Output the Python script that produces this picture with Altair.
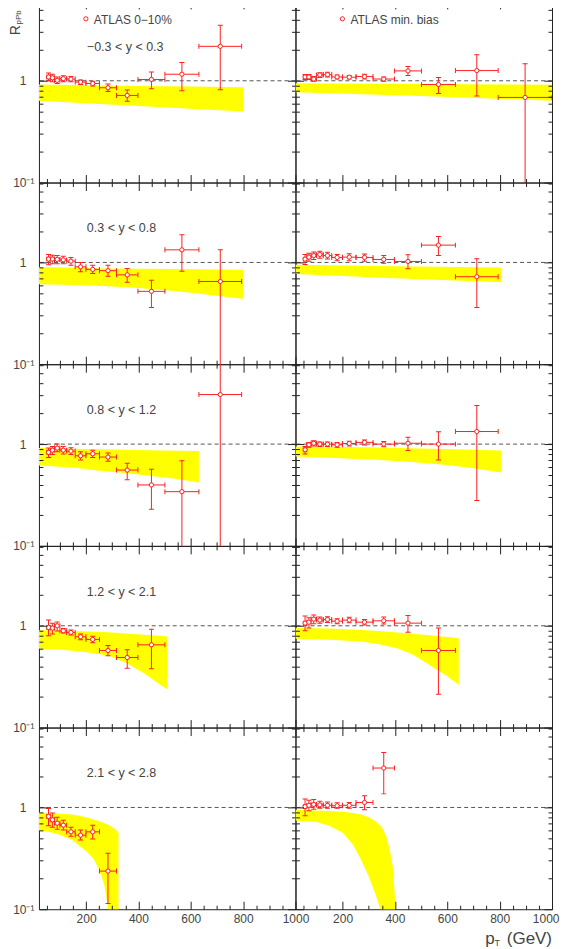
import altair as alt
import pandas as pd

FONT = "Liberation Sans"
RED = "#ff2020"
TXT = "#444444"
W, H = 257, 182

# ---------------- data ----------------
pt_center = [56.6, 71.3, 89.7, 113.0, 142.2, 179.0, 225.4, 283.7, 357.2, 449.7, 566.1, 712.7, 897.2]
pt_low = [50.1, 63.1, 79.4, 100.0, 125.9, 158.5, 199.5, 251.2, 316.2, 398.1, 501.2, 631.0, 794.3]
pt_high = [63.1, 79.4, 100.0, 125.9, 158.5, 199.5, 251.2, 316.2, 398.1, 501.2, 631.0, 794.3, 1000.0]

x_ticks = [50, 100, 150, 200, 250, 300, 350, 400, 450, 500, 550, 600, 650, 700, 750, 800, 850, 900, 950, 1000]
y_ticks = [0.1, 0.2, 0.3, 0.4, 0.5, 0.6, 0.7, 0.8, 0.9, 1, 2, 3, 4, 5, 6]
unity = [1.0]

rapidity_labels = ["\u22120.3  <  y  <  0.3", "0.3  <  y  <  0.8", "0.8  <  y  <  1.2",
                   "1.2  <  y  <  2.1", "2.1  <  y  <  2.8"]
legend_labels = ["ATLAS  0\u221210%", "ATLAS  min. bias"]

# ATLAS 0-10% (left column)
c1_R = [1.09, 1.07, 1.01, 1.05, 1.04, 0.97, 0.94, 0.854, 0.718, 1.03, 1.16, 2.18]
c1_lo = [1.0, 0.98, 0.94, 0.98, 0.98, 0.92, 0.89, 0.785, 0.63, 0.835, 0.80, 0.815]
c1_hi = [1.19, 1.16, 1.09, 1.12, 1.10, 1.02, 0.99, 0.93, 0.81, 1.22, 1.51, 3.51]

c2_R = [1.08, 1.08, 1.07, 1.06, 1.03, 0.905, 0.855, 0.83, 0.755, 0.52, 1.33, 0.65]
c2_lo = [0.95, 0.97, 0.97, 0.97, 0.94, 0.81, 0.78, 0.73, 0.64, 0.36, 0.82, 0.03]
c2_hi = [1.2, 1.18, 1.17, 1.15, 1.12, 1.0, 0.94, 0.94, 0.87, 0.67, 1.87, 1.33]

c3_R = [0.83, 0.873, 0.914, 0.873, 0.854, 0.768, 0.804, 0.746, 0.556, 0.397, 0.341, 3.07]
c3_lo = [0.74, 0.79, 0.84, 0.80, 0.79, 0.70, 0.74, 0.68, 0.447, 0.229, 0.03, 0.03]
c3_hi = [0.914, 0.95, 1.0, 0.95, 0.92, 0.84, 0.87, 0.82, 0.65, 0.565, 0.686, 20.0]

c4_R = [0.963, 0.95, 1.0, 0.893, 0.86, 0.78, 0.734, 0.572, 0.488, 0.65]
c4_lo = [0.80, 0.83, 0.89, 0.85, 0.81, 0.73, 0.68, 0.507, 0.383, 0.378]
c4_hi = [1.14, 1.06, 1.09, 0.94, 0.91, 0.83, 0.79, 0.64, 0.58, 0.927]

c5_R = [0.816, 0.756, 0.701, 0.67, 0.576, 0.534, 0.576, 0.237]
c5_lo = [0.66, 0.64, 0.61, 0.60, 0.52, 0.48, 0.49, 0.114]
c5_hi = [0.977, 0.88, 0.80, 0.75, 0.64, 0.60, 0.67, 0.355]

# ATLAS min. bias (right column)
m1_R = [1.09, 1.09, 1.04, 1.14, 1.15, 1.09, 1.085, 1.10, 1.04, 1.25, 0.92, 1.26, 0.686]
m1_lo = [1.03, 1.03, 0.99, 1.08, 1.09, 1.04, 1.04, 1.04, 0.99, 1.127, 0.75, 0.71, 0.03]
m1_hi = [1.15, 1.15, 1.10, 1.20, 1.21, 1.14, 1.13, 1.16, 1.09, 1.38, 1.077, 1.80, 1.47]

m2_R = [1.078, 1.128, 1.17, 1.198, 1.17, 1.12, 1.128, 1.12, 1.07, 1.023, 1.48, 0.724]
m2_lo = [0.955, 1.03, 1.07, 1.10, 1.08, 1.04, 1.04, 1.03, 0.98, 0.867, 1.17, 0.36]
m2_hi = [1.2, 1.23, 1.27, 1.29, 1.26, 1.20, 1.22, 1.21, 1.17, 1.19, 1.8, 1.09]

m3_R = [0.88, 0.985, 1.02, 1.0, 1.0, 0.985, 1.015, 1.04, 1.0, 1.02, 1.0, 1.33]
m3_lo = [0.80, 0.93, 0.96, 0.95, 0.95, 0.93, 0.96, 0.98, 0.94, 0.866, 0.70, 0.28]
m3_hi = [0.95, 1.04, 1.08, 1.05, 1.05, 1.04, 1.07, 1.10, 1.06, 1.17, 1.32, 2.39]

m4_R = [1.062, 1.086, 1.163, 1.137, 1.154, 1.11, 1.137, 1.086, 1.12, 1.062, 0.572]
m4_lo = [0.893, 0.95, 1.05, 1.06, 1.08, 1.05, 1.07, 1.02, 1.04, 0.866, 0.213]
m4_hi = [1.245, 1.2, 1.28, 1.22, 1.23, 1.17, 1.21, 1.15, 1.22, 1.26, 0.95]

m5_R = [1.02, 1.05, 1.07, 1.06, 1.05, 1.04, 1.05, 1.12, 2.44]
m5_lo = [0.83, 0.93, 0.96, 0.98, 0.98, 0.98, 0.98, 0.95, 1.36]
m5_hi = [1.21, 1.18, 1.20, 1.15, 1.13, 1.11, 1.12, 1.30, 3.47]

# theory bands
c1_band_pt = [20, 200, 400, 600, 800]
c1_band_hi = [0.92, 0.905, 0.89, 0.878, 0.866]
c1_band_lo = [0.637, 0.60, 0.565, 0.53, 0.50]

c2_band_pt = [20, 150, 251, 400, 550, 700, 800]
c2_band_hi = [0.90, 0.885, 0.873, 0.866, 0.86, 0.852, 0.847]
c2_band_lo = [0.61, 0.60, 0.59, 0.56, 0.52, 0.47, 0.44]

c3_band_pt = [20, 150, 251, 350, 442, 550, 631]
c3_band_hi = [0.914, 0.90, 0.89, 0.88, 0.87, 0.86, 0.854]
c3_band_lo = [0.618, 0.59, 0.548, 0.52, 0.49, 0.455, 0.42]

c4_band_pt = [20, 100, 202, 285, 354, 423, 478, 510]
c4_band_hi = [0.906, 0.90, 0.88, 0.866, 0.84, 0.815, 0.80, 0.786]
c4_band_lo = [0.594, 0.585, 0.55, 0.51, 0.43, 0.34, 0.27, 0.238]

c5_band_pt = [20, 60, 92, 147, 202, 230, 244, 260, 271, 285, 300, 315, 324]
c5_band_hi = [0.893, 0.88, 0.87, 0.853, 0.80, 0.756, 0.74, 0.72, 0.70, 0.675, 0.64, 0.60, 0.56]
c5_band_lo = [0.594, 0.575, 0.55, 0.48, 0.37, 0.31, 0.263, 0.21, 0.167, 0.10, 0.06, 0.04, 0.03]

m1_band_pt = [20, 500, 1000]
m1_band_hi = [0.947, 0.93, 0.914]
m1_band_lo = [0.773, 0.71, 0.637]

m2_band_pt = [20, 400, 807]
m2_band_hi = [0.949, 0.92, 0.893]
m2_band_lo = [0.77, 0.70, 0.64]

m3_band_pt = [20, 150, 337, 450, 591, 700, 807]
m3_band_hi = [0.949, 0.94, 0.925, 0.91, 0.895, 0.88, 0.867]
m3_band_lo = [0.757, 0.735, 0.70, 0.67, 0.627, 0.58, 0.527]

m4_band_pt = [20, 150, 271, 340, 409, 470, 520, 600, 644]
m4_band_hi = [0.949, 0.94, 0.91, 0.89, 0.86, 0.835, 0.81, 0.775, 0.756]
m4_band_lo = [0.745, 0.73, 0.70, 0.66, 0.60, 0.52, 0.43, 0.32, 0.263]

m5_band_pt = [20, 100, 150, 202, 240, 271, 300, 326, 350, 367, 382, 392, 400, 404]
m5_band_hi = [0.949, 0.935, 0.925, 0.906, 0.88, 0.853, 0.80, 0.73, 0.64, 0.52, 0.36, 0.26, 0.13, 0.03]
m5_band_lo = [0.745, 0.72, 0.66, 0.56, 0.43, 0.305, 0.21, 0.14, 0.09, 0.07, 0.05, 0.04, 0.03, 0.03]

central = [(c1_R, c1_lo, c1_hi, c1_band_pt, c1_band_lo, c1_band_hi),
           (c2_R, c2_lo, c2_hi, c2_band_pt, c2_band_lo, c2_band_hi),
           (c3_R, c3_lo, c3_hi, c3_band_pt, c3_band_lo, c3_band_hi),
           (c4_R, c4_lo, c4_hi, c4_band_pt, c4_band_lo, c4_band_hi),
           (c5_R, c5_lo, c5_hi, c5_band_pt, c5_band_lo, c5_band_hi)]
minbias = [(m1_R, m1_lo, m1_hi, m1_band_pt, m1_band_lo, m1_band_hi),
           (m2_R, m2_lo, m2_hi, m2_band_pt, m2_band_lo, m2_band_hi),
           (m3_R, m3_lo, m3_hi, m3_band_pt, m3_band_lo, m3_band_hi),
           (m4_R, m4_lo, m4_hi, m4_band_pt, m4_band_lo, m4_band_hi),
           (m5_R, m5_lo, m5_hi, m5_band_pt, m5_band_lo, m5_band_hi)]

# ---------------- chart ----------------
xs = alt.Scale(domain=[20, 1000], nice=False, zero=False)
ys = alt.Scale(type="log", domain=[0.1, 6.1], nice=False)


def extent_opts(show):
    return {"minExtent": 0} if show else {"minExtent": 0, "maxExtent": 0}


def x_axis(orient, show, flush=False):
    flush_opts = {"labelFlush": True, "labelFlushOffset": 7} if flush else {"labelFlush": False}
    return alt.Axis(
        orient=orient, values=x_ticks, offset=-8, tickSize=8, domain=False, grid=False,
        tickColor="#222222", tickWidth=1,
        tickDash={"condition": {"test": "datum.value % 200 === 0", "value": [8, 0]}, "value": [0, 4, 4]},
        labels=show, labelExpr="datum.value % 200 === 0 ? '' + datum.value : ''",
        labelFont=FONT, labelFontSize=12, labelColor=TXT, labelPadding=4,
        labelOverlap=False, title=None, zindex=1, **flush_opts, **extent_opts(show))


def y_axis(orient, show):
    return alt.Axis(
        orient=orient, values=y_ticks, offset=-8, tickSize=8, domain=False, grid=False,
        tickColor="#222222", tickWidth=1,
        tickDash={"condition": {"test": "datum.value === 1 || datum.value === 0.1", "value": [8, 0]},
                  "value": [0, 4, 4]},
        labels=show, labelExpr="datum.value === 1 ? '1' : (datum.value === 0.1 ? '10\u207b\u00b9' : '')",
        labelFont=FONT, labelFontSize=12, labelColor=TXT,
        labelPadding={"condition": {"test": "datum.value === 1", "value": 13}, "value": 5},
        labelOverlap=False, labelFlush=False, title=None, zindex=1, **extent_opts(show))


def text_layer(s, x, y, size=12.5, align="left", angle=0, baseline="middle"):
    return alt.Chart(pd.DataFrame({"t": [s]})).mark_text(
        align=align, baseline=baseline, font=FONT, fontSize=size, color=TXT, angle=angle
    ).encode(text="t:N", x=alt.value(x), y=alt.value(y))


def panel(row, col, series):
    R, lo, hi, bpt, blo, bhi = series
    n = len(R)
    pdf = pd.DataFrame({"pt": pt_center[:n], "xlo": pt_low[:n], "xhi": pt_high[:n],
                        "R": R, "lo": lo, "hi": hi})
    bdf = pd.DataFrame({"pt": bpt, "lo": blo, "hi": bhi})

    def X(f):
        return alt.X(f, type="quantitative", scale=xs, axis=None)

    def Y(f):
        return alt.Y(f, type="quantitative", scale=ys, axis=None)

    layers = [
        alt.Chart(bdf).mark_area(color="#ffff00", opacity=1, clip=True).encode(
            x=X("pt"), y=Y("lo"), y2=alt.Y2("hi")),
        alt.Chart(pd.DataFrame({"v": unity})).mark_rule(
            color="#555555", strokeDash=[4, 3], strokeWidth=1).encode(y=Y("v")),
        alt.Chart(pdf).mark_rule(color=RED, strokeWidth=1, clip=True).encode(
            x=X("pt"), y=Y("lo"), y2=alt.Y2("hi")),
        alt.Chart(pdf).mark_rule(color=RED, strokeWidth=1, clip=True).encode(
            x=X("xlo"), x2=alt.X2("xhi"), y=Y("R")),
        alt.Chart(pdf).mark_tick(color=RED, orient="horizontal", size=5, thickness=1,
                                 opacity=1, clip=True).encode(x=X("pt"), y=Y("lo")),
        alt.Chart(pdf).mark_tick(color=RED, orient="horizontal", size=5, thickness=1,
                                 opacity=1, clip=True).encode(x=X("pt"), y=Y("hi")),
        alt.Chart(pdf).mark_tick(color=RED, orient="vertical", size=5, thickness=1,
                                 opacity=1, clip=True).encode(x=X("xlo"), y=Y("R")),
        alt.Chart(pdf).mark_tick(color=RED, orient="vertical", size=5, thickness=1,
                                 opacity=1, clip=True).encode(x=X("xhi"), y=Y("R")),
        alt.Chart(pdf).mark_point(shape="circle", filled=True, fill="white", stroke=RED,
                                  strokeWidth=1, size=18, opacity=1, clip=True).encode(
            x=X("pt"), y=Y("R")),
    ]
    if row == 0:
        layers.append(alt.Chart(pd.DataFrame({"t": [legend_labels[col]]})).mark_point(
            shape="circle", filled=True, fill="white", stroke=RED, strokeWidth=1, size=18, opacity=1
        ).encode(x=alt.value(47), y=alt.value(18)))
        layers.append(text_layer(legend_labels[col], 55, 19, size=12))
    if col == 0:
        layers.append(text_layer(rapidity_labels[row], 48, 46, size=12.5))
    if row == 0 and col == 0:
        layers.append(text_layer("R", -18.5, 29.5, size=14, align="center", angle=270, baseline="alphabetic"))
        layers.append(text_layer("pPb", -17.5, 16.5, size=8, align="center", angle=270, baseline="alphabetic"))
    if row == 4 and col == 1:
        layers.append(text_layer("p", 190, 212, size=17, align="left"))
        layers.append(text_layer("T", 199.5, 216, size=9, align="left"))
        layers.append(text_layer("(GeV)", W, 212, size=17, align="right"))

    layers.append(alt.Chart(pdf).mark_point(opacity=0, clip=True).encode(
        x=alt.X("pt", type="quantitative", scale=xs,
                axis=x_axis("bottom", row == 4, flush=(row == 4 and col == 1))),
        y=alt.Y("R", type="quantitative", scale=ys, axis=y_axis("left", col == 0))))
    layers.append(alt.Chart(pdf).mark_point(opacity=0, clip=True).encode(
        x=alt.X("pt", type="quantitative", scale=xs, axis=x_axis("top", False)),
        y=alt.Y("R", type="quantitative", scale=ys, axis=y_axis("right", False))))

    return alt.layer(*layers).resolve_axis(x="independent", y="independent").properties(
        width=W, height=H)


panels = []
for r in range(5):
    panels.append(panel(r, 0, central[r]))
    panels.append(panel(r, 1, minbias[r]))

chart = alt.concat(*panels, columns=2, spacing=0, bounds="flush").configure_view(
    stroke="#222222", strokeWidth=1
).properties(padding={"left": 1, "top": -14, "right": 0, "bottom": 0})

chart.save("out.html", embed_options={"renderer": "svg", "actions": False})
